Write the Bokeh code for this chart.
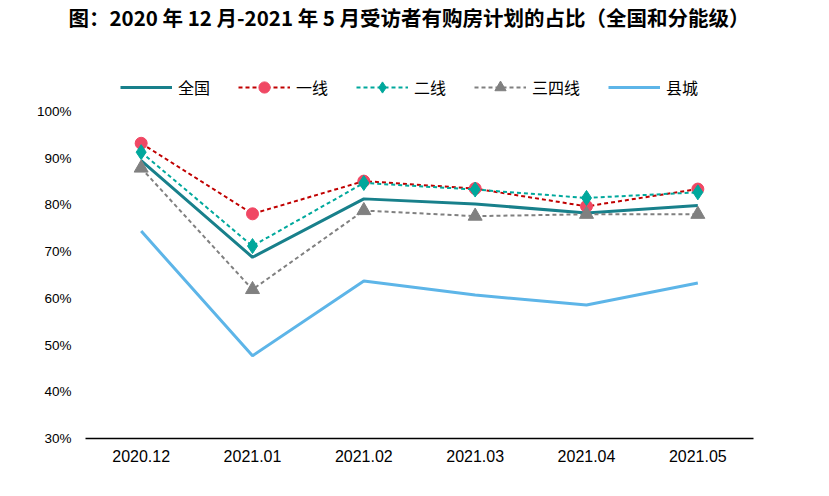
from bokeh.plotting import figure
from bokeh.models import (FactorRange, Range1d, FixedTicker, PrintfTickFormatter,
                          Legend, LegendItem)
from bokeh.embed import file_html
from bokeh.resources import INLINE

# ---- data ----
months = ["2020.12", "2021.01", "2021.02", "2021.03", "2021.04", "2021.05"]
national = [89.5, 68.8, 81.3, 80.2, 78.3, 79.9]
tier1 = [93.2, 78.1, 85.1, 83.5, 79.7, 83.4]
tier2 = [91.3, 71.2, 84.7, 83.3, 81.5, 82.7]
tier34 = [87.9, 61.9, 78.8, 77.6, 78.0, 78.0]
county = [74.4, 47.7, 63.7, 60.7, 58.6, 63.3]
y_ticks = [30, 40, 50, 60, 70, 80, 90, 100]
title_text = "图：2020 年 12 月-2021 年 5 月受访者有购房计划的占比（全国和分能级）"
series_names = ["全国", "一线", "二线", "三四线", "县城"]

CJK = "Noto Sans CJK SC"

p = figure(width=813, height=480, output_backend="svg", toolbar_location=None,
           x_range=FactorRange(*months, range_padding=0),
           y_range=Range1d(30, 117.56),
           min_border_left=85, min_border_right=60, min_border_top=29,
           min_border_bottom=42)
p.outline_line_color = None
p.xgrid.visible = False
p.ygrid.visible = False
p.background_fill_color = "white"

# title
p.title.text = title_text
p.title.align = "left"
p.title.offset = -17
p.title.standoff = -4
p.title.text_font = CJK
p.title.text_font_style = "bold"
p.title.text_font_size = "20.5px"
p.title.text_color = "#000000"

# y axis
p.yaxis.ticker = FixedTicker(ticks=y_ticks)
p.yaxis.formatter = PrintfTickFormatter(format="%d%%")
p.yaxis.axis_line_color = None
p.yaxis.major_tick_line_color = None
p.yaxis.minor_tick_line_color = None
p.yaxis.major_tick_in = 0
p.yaxis.major_tick_out = 0
p.yaxis.major_label_standoff = 14
p.yaxis.major_label_text_font = "Liberation Sans"
p.yaxis.major_label_text_font_size = "13.5px"
p.yaxis.major_label_text_color = "#000000"

# x axis
p.xaxis.axis_line_color = "#000000"
p.xaxis.axis_line_width = 1.5
p.xaxis.major_tick_line_color = None
p.xaxis.minor_tick_line_color = None
p.xaxis.major_tick_in = 0
p.xaxis.major_tick_out = 0
p.xaxis.major_label_standoff = 11
p.xaxis.major_label_text_font = "Liberation Sans"
p.xaxis.major_label_text_font_size = "16px"
p.xaxis.major_label_text_color = "#000000"

# series
c_nat = "#18808B"
c_t1_line = "#C00000"
c_t1_mark = "#F04864"
c_t2 = "#00A89C"
c_t34 = "#808080"
c_cty = "#5DB5E8"

r_cty = p.line(months, county, line_color=c_cty, line_width=3)
r_nat = p.line(months, national, line_color=c_nat, line_width=3)
r_t1 = p.line(months, tier1, line_color=c_t1_line, line_width=2, line_dash="4 3")
r_t1m = p.scatter(months, tier1, marker="circle", size=12, fill_color=c_t1_mark,
                  line_color=c_t1_mark)
r_t2 = p.line(months, tier2, line_color=c_t2, line_width=2, line_dash="4 3")
r_t2m = p.scatter(months, tier2, marker="diamond", size=15, fill_color=c_t2,
                  line_color=c_t2)
r_t34 = p.line(months, tier34, line_color=c_t34, line_width=2, line_dash="4 3")
r_t34m = p.scatter(months, tier34, marker="triangle", size=14, fill_color=c_t34,
                   line_color=c_t34)

legend = Legend(items=[
    LegendItem(label=series_names[0], renderers=[r_nat]),
    LegendItem(label=series_names[1], renderers=[r_t1, r_t1m]),
    LegendItem(label=series_names[2], renderers=[r_t2, r_t2m]),
    LegendItem(label=series_names[3], renderers=[r_t34, r_t34m]),
    LegendItem(label=series_names[4], renderers=[r_cty]),
], orientation="horizontal", location=(35, 337))
legend.glyph_width = 52
legend.glyph_height = 28
legend.label_height = 20
legend.label_standoff = 6
legend.spacing = 28
legend.padding = 0
legend.margin = 0
legend.border_line_color = None
legend.background_fill_alpha = 0
legend.label_text_font = CJK
legend.label_text_font_size = "16px"
legend.label_text_color = "#000000"
p.add_layout(legend, "center")

open("out.html", "w").write(file_html(p, INLINE))
